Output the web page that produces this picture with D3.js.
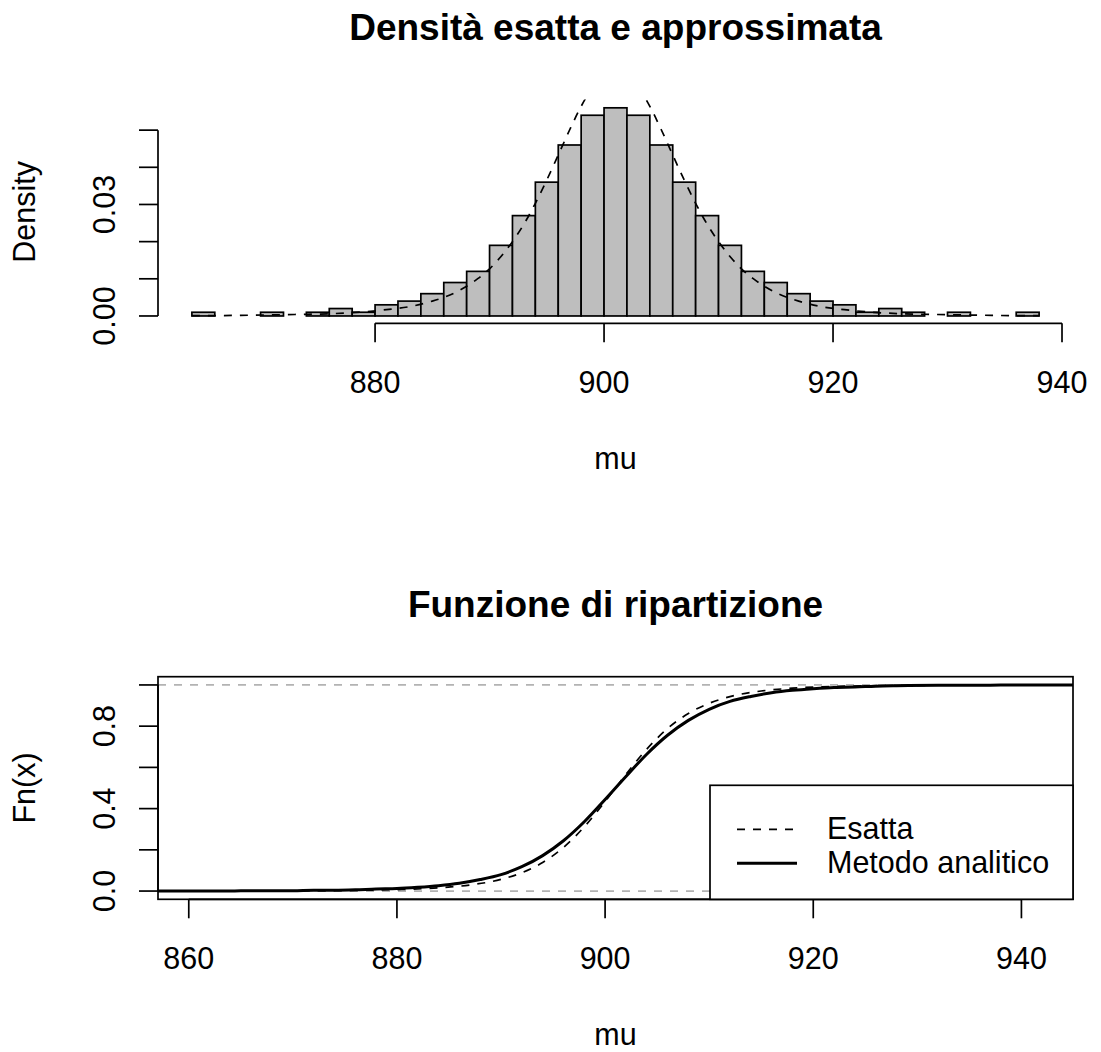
<!DOCTYPE html>
<html>
<head>
<meta charset="utf-8">
<script src="https://cdnjs.cloudflare.com/ajax/libs/d3/7.8.5/d3.min.js"></script>
<style>
  body { margin: 0; background: #ffffff; }
  text { font-family: "Liberation Sans", Arial, Helvetica, sans-serif; fill: #000; }
</style>
</head>
<body>
<div id="chart"></div>
<script>
// ################  DATA  ################

// histogram of simulated mu : left edge of each bin (width 2) and density
var binStarts = [864, 866, 868, 870, 872, 874, 876, 878, 880, 882, 884, 886, 888,
                 890, 892, 894, 896, 898, 900, 902, 904, 906, 908, 910, 912, 914,
                 916, 918, 920, 922, 924, 926, 928, 930, 932, 934, 936];
var binDensity = [0.001, 0, 0, 0.001, 0, 0.001, 0.002, 0.001, 0.003, 0.004, 0.006, 0.009, 0.012,
                  0.019, 0.027, 0.036, 0.046, 0.054, 0.056, 0.054, 0.046, 0.036, 0.027, 0.019, 0.012, 0.009,
                  0.006, 0.004, 0.003, 0.001, 0.002, 0.001, 0, 0.001, 0, 0, 0.001];
var binWidth = 2;

// exact density (dashed curve over the histogram)
var densX = [864, 866, 869, 873, 876, 879, 881, 883, 885, 886, 887, 888, 889, 890, 891, 892, 893,
             894, 895, 896, 897, 898, 899, 900, 901, 902, 903, 904, 905, 906, 907, 908, 909, 910,
             911, 912, 913, 914, 915, 916, 917, 919, 921, 923, 926, 929, 933, 936, 938];
var densY = [0.0001, 0.0001, 0.0002, 0.0004, 0.0006, 0.0011, 0.0017, 0.0025, 0.0040, 0.0050, 0.0063,
             0.0080, 0.0101, 0.0127, 0.0160, 0.0200, 0.0247, 0.0303, 0.0366, 0.0433, 0.0501, 0.0564,
             0.0615, 0.0649, 0.0661, 0.0649, 0.0615, 0.0564, 0.0501, 0.0433, 0.0366, 0.0303, 0.0247,
             0.0200, 0.0160, 0.0127, 0.0101, 0.0080, 0.0063, 0.0050, 0.0040, 0.0025, 0.0017, 0.0011,
             0.0006, 0.0004, 0.0002, 0.0001, 0.0001];

// exact distribution function (dashed)
var exactX = [857, 861, 865, 870, 875, 880, 884, 887, 890, 892, 894, 896, 898, 900, 901,
              902, 904, 906, 908, 910, 912, 915, 918, 922, 927, 932, 937, 941, 945];
var exactF = [0.0004, 0.0005, 0.0009, 0.0015, 0.0031, 0.0073, 0.0158, 0.0294, 0.0567, 0.0889,
              0.1385, 0.2115, 0.3118, 0.4343, 0.5, 0.5657, 0.6882, 0.7885, 0.8615, 0.9111,
              0.9433, 0.9706, 0.9842, 0.9927, 0.9969, 0.9985, 0.9991, 0.9995, 0.9996];

// empirical distribution function, "Metodo analitico" (solid)
var ecdfX = [857, 864, 866, 870, 872, 874, 876, 878, 880, 882, 884, 886, 888, 890, 892, 894,
             896, 898, 900, 902, 904, 906, 908, 910, 912, 914, 916, 918, 920, 922, 924, 926,
             928, 932, 936, 938, 945];
var ecdfF = [0, 0, 0.002, 0.002, 0.004, 0.004, 0.006, 0.010, 0.012, 0.018, 0.026, 0.038, 0.056,
             0.080, 0.118, 0.172, 0.244, 0.336, 0.444, 0.556, 0.664, 0.756, 0.828, 0.882, 0.920,
             0.944, 0.962, 0.974, 0.982, 0.988, 0.990, 0.994, 0.996, 0.998, 0.998, 1, 1];

// ticks and labels
var histXTicks = [880, 900, 920, 940];
var histYTicks = [0, 0.01, 0.02, 0.03, 0.04, 0.05];
var histYLabels = ["0.00", "", "", "0.03", "", ""];
var cdfXTicks = [860, 880, 900, 920, 940];
var cdfYTicks = [0, 0.2, 0.4, 0.6, 0.8, 1];
var cdfYLabels = ["0.0", "", "0.4", "", "0.8", ""];
var cdfXlim = [860.3, 941.7];
var legendLabels = ["Esatta", "Metodo analitico"];

// ################  ATTRIBUTES  ################
var attrs = {
  width: 1101,
  height: 1052,
  plotLeft: 158,
  plotRight: 1073,
  fontSize: 30.5,
  titleSize: 37,
  tickLength: 19,
  lineWidth: 1.7,
  dash: "8,8",
  barFill: "#bebebe",
  refLine: "#b3b3b3"
};

var svg = d3.select("#chart").append("svg")
  .attr("width", attrs.width)
  .attr("height", attrs.height);

// R style: extend limits by 4% on each side
function rExtend(lim) {
  var d = (lim[1] - lim[0]) * 0.04;
  return [lim[0] - d, lim[1] + d];
}

// ##########  helpers  ##########
function bottomAxis(g, scale, ticks, yPos) {
  var ax = g.append("g").attr("transform", "translate(0," + yPos + ")");
  ax.append("line")
    .attr("x1", scale(ticks[0])).attr("x2", scale(ticks[ticks.length - 1]))
    .attr("stroke", "#000").attr("stroke-width", attrs.lineWidth);
  var t = ax.selectAll(".xt").data(ticks).enter().append("g")
    .attr("transform", d => "translate(" + scale(d) + ",0)");
  t.append("line").attr("y2", attrs.tickLength)
    .attr("stroke", "#000").attr("stroke-width", attrs.lineWidth);
  t.append("text").attr("y", 70).attr("text-anchor", "middle")
    .attr("font-size", attrs.fontSize).text(d => d);
}

function leftAxis(g, scale, ticks, labels, xPos) {
  var ax = g.append("g").attr("transform", "translate(" + xPos + ",0)");
  ax.append("line")
    .attr("y1", scale(ticks[0])).attr("y2", scale(ticks[ticks.length - 1]))
    .attr("stroke", "#000").attr("stroke-width", attrs.lineWidth);
  var t = ax.selectAll(".yt").data(ticks).enter().append("g")
    .attr("transform", d => "translate(0," + scale(d) + ")");
  t.append("line").attr("x2", -attrs.tickLength)
    .attr("stroke", "#000").attr("stroke-width", attrs.lineWidth);
  t.append("text")
    .attr("transform", "rotate(-90)")
    .attr("x", 0).attr("y", -43)
    .attr("text-anchor", "middle")
    .attr("font-size", attrs.fontSize)
    .text((d, i) => labels[i]);
}

function title(txt, yBase) {
  svg.append("text")
    .attr("x", (attrs.plotLeft + attrs.plotRight) / 2).attr("y", yBase)
    .attr("text-anchor", "middle").attr("font-weight", "bold")
    .attr("font-size", attrs.titleSize).text(txt);
}

function axisTitles(xTxt, xBase, yTxt, yCenter) {
  svg.append("text")
    .attr("x", (attrs.plotLeft + attrs.plotRight) / 2).attr("y", xBase)
    .attr("text-anchor", "middle").attr("font-size", attrs.fontSize).text(xTxt);
  svg.append("text")
    .attr("transform", "translate(35," + yCenter + ") rotate(-90)")
    .attr("text-anchor", "middle").attr("font-size", attrs.fontSize).text(yTxt);
}

// ####################  TOP : HISTOGRAM  ####################
var histArea = { y0: 99.5, y1: 324.3 };
var hx = d3.scaleLinear()
  .domain(rExtend([binStarts[0], binStarts[binStarts.length - 1] + binWidth]))
  .range([attrs.plotLeft, attrs.plotRight]);
var hy = d3.scaleLinear()
  .domain(rExtend([0, d3.max(binDensity)]))
  .range([histArea.y1, histArea.y0]);

var gTop = svg.append("g");

svg.append("clipPath").attr("id", "clipTop").append("rect")
  .attr("x", attrs.plotLeft).attr("y", histArea.y0)
  .attr("width", attrs.plotRight - attrs.plotLeft).attr("height", histArea.y1 - histArea.y0);

gTop.selectAll(".bar").data(binStarts).enter().append("rect")
  .attr("class", "bar")
  .attr("x", d => hx(d))
  .attr("width", d => hx(d + binWidth) - hx(d))
  .attr("y", (d, i) => hy(binDensity[i]))
  .attr("height", (d, i) => hy(0) - hy(binDensity[i]))
  .attr("fill", attrs.barFill)
  .attr("stroke", "#000").attr("stroke-width", attrs.lineWidth);

gTop.append("path")
  .datum(densX.map((x, i) => [x, densY[i]]))
  .attr("clip-path", "url(#clipTop)")
  .attr("d", d3.line().x(d => hx(d[0])).y(d => hy(d[1])).curve(d3.curveMonotoneX))
  .attr("fill", "none").attr("stroke", "#000")
  .attr("stroke-width", attrs.lineWidth).attr("stroke-dasharray", attrs.dash);

bottomAxis(gTop, hx, histXTicks, histArea.y1 - 1);
leftAxis(gTop, hy, histYTicks, histYLabels, attrs.plotLeft);
title("Densità esatta e approssimata", 40);
axisTitles("mu", 468.7, "Density", (histArea.y0 + histArea.y1) / 2);

// ####################  BOTTOM : DISTRIBUTION FUNCTION  ####################
var cdfArea = { y0: 676.7, y1: 899.3 };
var cx = d3.scaleLinear()
  .domain(rExtend(cdfXlim))
  .range([attrs.plotLeft, attrs.plotRight]);
var cy = d3.scaleLinear()
  .domain(rExtend([0, 1]))
  .range([cdfArea.y1, cdfArea.y0]);

var gBot = svg.append("g");

svg.append("clipPath").attr("id", "clipBot").append("rect")
  .attr("x", attrs.plotLeft).attr("y", cdfArea.y0)
  .attr("width", attrs.plotRight - attrs.plotLeft).attr("height", cdfArea.y1 - cdfArea.y0);

// grey reference lines at 0 and 1
gBot.selectAll(".ref").data([0, 1]).enter().append("line")
  .attr("x1", attrs.plotLeft).attr("x2", attrs.plotRight)
  .attr("y1", d => cy(d)).attr("y2", d => cy(d))
  .attr("stroke", attrs.refLine).attr("stroke-width", attrs.lineWidth)
  .attr("stroke-dasharray", attrs.dash);

var cdfLine = d3.line().x(d => cx(d[0])).y(d => cy(d[1])).curve(d3.curveMonotoneX);

gBot.append("path")
  .datum(ecdfX.map((x, i) => [x, ecdfF[i]]))
  .attr("clip-path", "url(#clipBot)")
  .attr("d", cdfLine)
  .attr("fill", "none").attr("stroke", "#000").attr("stroke-width", 3);

gBot.append("path")
  .datum(exactX.map((x, i) => [x, exactF[i]]))
  .attr("clip-path", "url(#clipBot)")
  .attr("d", cdfLine)
  .attr("fill", "none").attr("stroke", "#000")
  .attr("stroke-width", attrs.lineWidth).attr("stroke-dasharray", attrs.dash);

// box
gBot.append("rect")
  .attr("x", attrs.plotLeft).attr("y", cdfArea.y0)
  .attr("width", attrs.plotRight - attrs.plotLeft).attr("height", cdfArea.y1 - cdfArea.y0)
  .attr("fill", "none").attr("stroke", "#000").attr("stroke-width", attrs.lineWidth);

bottomAxis(gBot, cx, cdfXTicks, cdfArea.y1);
leftAxis(gBot, cy, cdfYTicks, cdfYLabels, attrs.plotLeft);
title("Funzione di ripartizione", 617);
axisTitles("mu", 1044.7, "Fn(x)", (cdfArea.y0 + cdfArea.y1) / 2);

// ##########  legend (bottom right)  ##########
var lg = { w: 363, h: 114 };
var legend = gBot.append("g")
  .attr("transform", "translate(" + (attrs.plotRight - lg.w) + "," + (cdfArea.y1 - lg.h) + ")");
legend.append("rect")
  .attr("width", lg.w).attr("height", lg.h)
  .attr("fill", "#fff").attr("stroke", "#000").attr("stroke-width", attrs.lineWidth);
var items = legend.selectAll(".item").data(legendLabels).enter().append("g")
  .attr("transform", (d, i) => "translate(0," + (44 + i * 34) + ")");
items.append("line")
  .attr("x1", 27).attr("x2", 87)
  .attr("stroke", "#000")
  .attr("stroke-width", (d, i) => i === 0 ? attrs.lineWidth : 3)
  .attr("stroke-dasharray", (d, i) => i === 0 ? attrs.dash : null);
items.append("text")
  .attr("x", 117).attr("y", 10)
  .attr("font-size", attrs.fontSize)
  .text(d => d);
</script>
</body>
</html>
